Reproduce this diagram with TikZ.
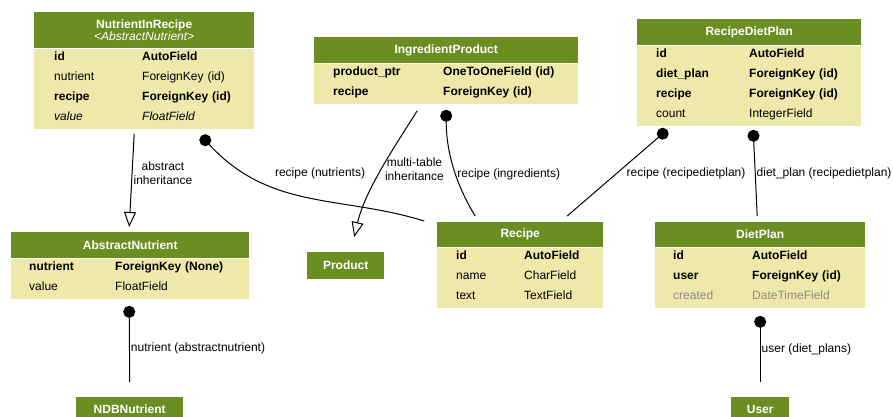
\documentclass[tikz,border=0pt]{standalone}
\usepackage{fontspec}
\usepackage{array}
\setmainfont{Liberation Sans}
\usetikzlibrary{positioning,arrows.meta}
\setlength{\parindent}{0pt}
\setlength{\extrarowheight}{-2pt}

\definecolor{hdgreen}{HTML}{6B8E23}
\definecolor{fldyellow}{HTML}{EEE8AA}

\newcommand{\rowdp}{\rule[-8pt]{0pt}{8pt}}

\tikzstyle{head} = [rectangle, fill=hdgreen, text=white, font=\fontsize{12}{14}\selectfont\bfseries, minimum height=26pt, inner sep=0pt, anchor=north west]
\tikzstyle{fields} = [rectangle, fill=fldyellow, font=\fontsize{12}{20}\selectfont, inner sep=0pt, align=left]
\tikzstyle{fk} = [line width=1pt, {Circle[length=12pt]}-]
\tikzstyle{inherit} = [line width=1pt, -{Triangle[open,length=15pt,width=12pt]}]
\tikzstyle{lbl} = [font=\fontsize{12}{14}\selectfont, inner sep=1pt]

\begin{document}
\begin{tikzpicture}[x=1pt,y=-1pt]
\useasboundingbox (0,0) rectangle (893,416);

% tables
\node (nir) [head, minimum width=220pt, minimum height=36pt, align=center, font=\fontsize{12}{12}\selectfont\bfseries] at (34,12) {NutrientInRecipe\\{\mdseries\itshape <AbstractNutrient>}};
\node (nirf) [fields, text width=220pt, below right=0pt of nir.south west] {\begin{tabular}{@{\hspace{20pt}}p{88pt}@{}l<{\rowdp}@{}}
\textbf{id} & \textbf{AutoField}\\
nutrient & ForeignKey (id)\\
\textbf{recipe} & \textbf{ForeignKey (id)}\\
\textit{value} & \textit{FloatField}
\end{tabular}};

\node (ip) [head, minimum width=264pt] at (314,37) {IngredientProduct};
\node (ipf) [fields, text width=264pt, below right=0pt of ip.south west] {\begin{tabular}{@{\hspace{19pt}}p{110pt}@{}l<{\rowdp}@{}}
\textbf{product\_ptr} & \textbf{OneToOneField (id)}\\
\textbf{recipe} & \textbf{ForeignKey (id)}
\end{tabular}};

\node (rdp) [head, minimum width=224pt] at (637,19) {RecipeDietPlan};
\node (rdpf) [fields, text width=224pt, below right=0pt of rdp.south west] {\begin{tabular}{@{\hspace{19pt}}p{93pt}@{}l<{\rowdp}@{}}
\textbf{id} & \textbf{AutoField}\\
\textbf{diet\_plan} & \textbf{ForeignKey (id)}\\
\textbf{recipe} & \textbf{ForeignKey (id)}\\
count & IntegerField
\end{tabular}};

\node (an) [head, minimum width=238pt] at (11,232) {AbstractNutrient};
\node (anf) [fields, text width=238pt, below right=0pt of an.south west] {\begin{tabular}{@{\hspace{18pt}}p{86pt}@{}l<{\rowdp}@{}}
\textbf{nutrient} & \textbf{ForeignKey (None)}\\
value & FloatField
\end{tabular}};

\node (recipe) [head, minimum width=166pt, minimum height=25pt] at (437,222) {Recipe};
\node (recipef) [fields, text width=166pt, below right=0pt of recipe.south west] {\begin{tabular}{@{\hspace{19pt}}p{68pt}@{}l<{\rowdp}@{}}
\textbf{id} & \textbf{AutoField}\\
name & CharField\\
text & TextField
\end{tabular}};

\node (dp) [head, minimum width=210pt, minimum height=25pt] at (655,222) {DietPlan};
\node (dpf) [fields, text width=210pt, below right=0pt of dp.south west] {\begin{tabular}{@{\hspace{18pt}}p{79pt}@{}l<{\rowdp}@{}}
\textbf{id} & \textbf{AutoField}\\
\textbf{user} & \textbf{ForeignKey (id)}\\
\textcolor{black!45}{created} & \textcolor{black!45}{DateTimeField}
\end{tabular}};

\node (product) [head, minimum width=77pt, minimum height=27pt] at (307,252) {Product};
\node (ndb) [head, minimum width=107pt, minimum height=24pt] at (76,397) {NDBNutrient};
\node (user) [head, minimum width=58pt, minimum height=24pt] at (731,397) {User};

% links
\draw [inherit] ([shift={(-10,5)}]nirf.south) -- node[lbl, right, align=center, pos=0.42] {abstract\\inheritance} ([shift={(-1,-5)}]an.north);
\draw [fk] ([shift={(57,7)}]nirf.south) .. controls +(69,75) and +(-84,-26) .. node[lbl, pos=0.5, xshift=13pt, yshift=23pt] {recipe (nutrients)} ([shift={(-96,-1)}]recipe.north);
\draw [inherit] ([shift={(-29,7)}]ipf.south) .. controls +(-22,35) and +(11,-47) .. node[lbl, right, align=center, pos=0.5, xshift=2pt] {multi-table\\inheritance} ([shift={(8.5,-15)}]product.north);
\draw [fk] ([shift={(0,6)}]ipf.south) .. controls +(0,51) and +(-13,-21) .. node[lbl, right, pos=0.5] {recipe (ingredients)} ([shift={(-45,-6)}]recipe.north);
\draw [fk] ([shift={(-82,4)}]rdpf.south) -- node[lbl, right, xshift=8pt] {recipe (recipedietplan)} ([shift={(47,-6)}]recipe.north);
\draw [fk] ([shift={(4,4)}]rdpf.south) -- node[lbl, right] {diet\_plan (recipedietplan)} ([shift={(-3,-6)}]dp.north);
\draw [fk] ([shift={(-1,7)}]anf.south) -- node[lbl, right, pos=0.56] {nutrient (abstractnutrient)} ([shift={(0,-15)}]ndb.north);
\draw [fk] ([shift={(0,8)}]dpf.south) -- node[lbl, right] {user (diet\_plans)} ([shift={(0,-15)}]user.north);
\end{tikzpicture}
\end{document}
